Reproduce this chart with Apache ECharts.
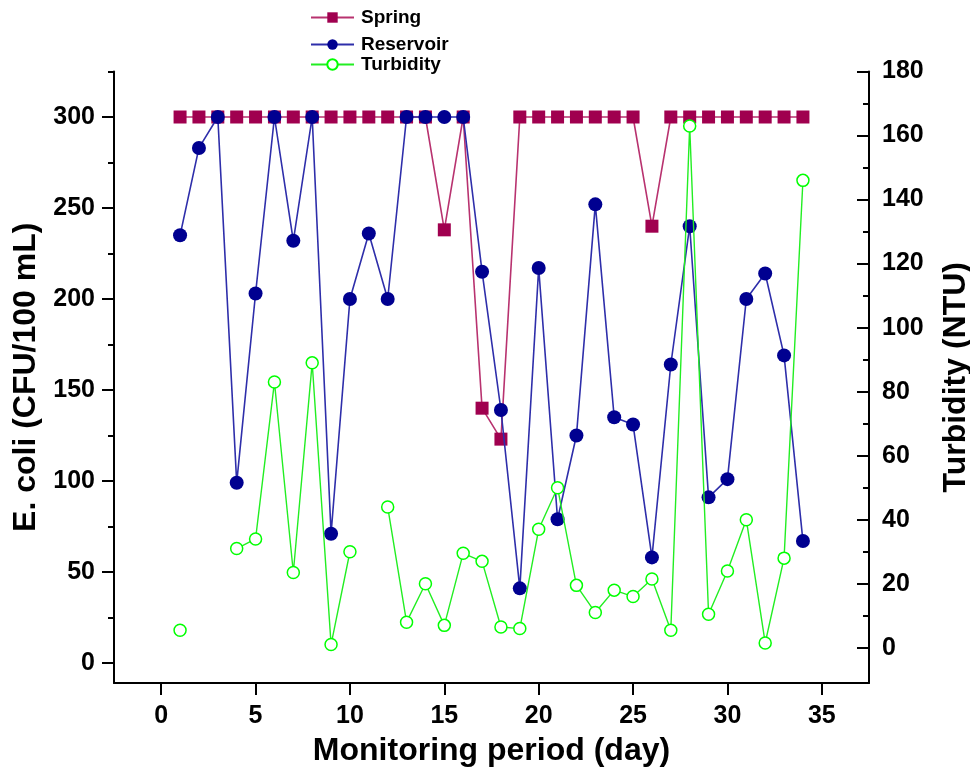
<!DOCTYPE html>
<html>
<head>
<meta charset="utf-8">
<title>E. coli and turbidity over the monitoring period</title>
<script src="https://cdn.jsdelivr.net/npm/echarts@6/dist/echarts.min.js"></script>
<style>
  html, body { margin: 0; padding: 0; background: #fff; }
  #chart { width: 970px; height: 771px; }
</style>
</head>
<body>
<div id="chart"></div>
<script>
// Monitoring days
const days = [1,2,3,4,5,6,7,8,9,10,11,12,13,14,15,16,17,18,19,20,21,22,23,24,25,26,27,28,29,30,31,32,33,34];

// E. coli, CFU/100 mL (300 = upper counting limit)
const spring = [300,300,300,300,300,300,300,300,300,300,300,300,300,300,238,300,140,123,300,300,300,300,300,300,300,240,300,300,300,300,300,300,300,300];
const reservoir = [235,283,300,99,203,300,232,300,71,200,236,200,300,300,300,300,215,139,41,217,79,125,252,135,131,58,164,240,91,101,200,214,169,67];

// Turbidity, NTU (null = not measured)
const turbidity = [5.5,null,null,31,34,83,23.5,89,1,30,null,44,8,20,7,29.5,27,6.5,6,37,50,19.5,11,18,16,21.5,5.5,163,10.5,24,40,1.5,28,146];

// Tick labels
const dayTicks = [0,5,10,15,20,25,30,35];
const ecoliTicks = [0,50,100,150,200,250,300];
const ecoliMinor = [25,75,125,175,225,275,325];
const turbTicks = [0,20,40,60,80,100,120,140,160,180];
const turbMinor = [10,30,50,70,90,110,130,150,170];

const FONT = "'Liberation Sans', Arial, sans-serif";
const pair = (vals) => days.map((d, i) => [d, vals[i]]);

const chart = echarts.init(document.getElementById('chart'), null, { renderer: 'canvas' });

const axisLine = { show: true, onZero: false, lineStyle: { color: '#000', width: 2 } };
const noLine = { show: false, onZero: false };
const tickLabel = { fontFamily: FONT, fontWeight: 'bold', fontSize: 25, color: '#000' };
const titleText = { fontFamily: FONT, fontWeight: 'bold', fontSize: 32, color: '#000' };

const E_MIN = -11, E_MAX = 325;
const T_MIN = -11, T_MAX = 180;

chart.setOption({
  animation: false,
  backgroundColor: '#fff',
  grid: { left: 114, right: 101, top: 71.5, bottom: 88, containLabel: false, outerBoundsMode: 'none' },
  legend: [
    { data: ['Spring'], left: 310, top: 8 },
    { data: ['Reservoir'], left: 310, top: 35 },
    { data: ['Turbidity'], left: 310, top: 55 }
  ].map(l => Object.assign({
    orient: 'vertical', itemWidth: 43, itemHeight: 13, itemGap: 0, padding: 0,
    textStyle: { fontFamily: FONT, fontWeight: 'bold', fontSize: 19, color: '#000', padding: [0, 0, 0, 2] }
  }, l)),
  xAxis: {
    type: 'value', min: -2.5, max: 37.5,
    name: 'Monitoring period (day)', nameLocation: 'middle', nameGap: 52,
    nameTextStyle: titleText,
    axisLine: axisLine,
    axisTick: { show: true, inside: false, length: 12, lineStyle: { color: '#000', width: 2 }, customValues: dayTicks },
    axisLabel: Object.assign({ margin: 21, customValues: dayTicks }, tickLabel),
    splitLine: { show: false }
  },
  yAxis: [
    {
      type: 'value', position: 'left', min: E_MIN, max: E_MAX,
      name: 'E. coli (CFU/100 mL)', nameLocation: 'middle', nameGap: 72, nameRotate: 90,
      nameTextStyle: titleText,
      axisLine: axisLine,
      axisTick: { show: true, inside: false, length: 12, lineStyle: { color: '#000', width: 2 }, customValues: ecoliTicks },
      axisLabel: Object.assign({ margin: 19, customValues: ecoliTicks }, tickLabel),
      splitLine: { show: false }
    },
    {
      type: 'value', position: 'right', min: T_MIN, max: T_MAX,
      name: 'Turbidity (NTU)', nameLocation: 'middle', nameGap: 71, nameRotate: 90,
      nameTextStyle: titleText,
      axisLine: axisLine,
      axisTick: { show: true, inside: true, length: 12, lineStyle: { color: '#000', width: 2 }, customValues: turbTicks },
      axisLabel: Object.assign({ margin: 13, customValues: turbTicks }, tickLabel),
      splitLine: { show: false }
    },
    {
      // minor ticks, E. coli axis
      type: 'value', position: 'left', min: E_MIN, max: E_MAX,
      axisLine: noLine,
      axisTick: { show: true, inside: false, length: 6, lineStyle: { color: '#000', width: 2 }, customValues: ecoliMinor },
      axisLabel: { show: false }, splitLine: { show: false }
    },
    {
      // minor ticks, turbidity axis
      type: 'value', position: 'right', min: T_MIN, max: T_MAX,
      axisLine: noLine,
      axisTick: { show: true, inside: true, length: 6, lineStyle: { color: '#000', width: 2 }, customValues: turbMinor },
      axisLabel: { show: false }, splitLine: { show: false }
    }
  ],
  series: [
    {
      name: 'Spring', type: 'line', yAxisIndex: 0, z: 2,
      data: pair(spring),
      symbol: 'rect', symbolSize: 13,
      lineStyle: { color: '#b8326f', width: 1.6 },
      itemStyle: { color: '#a0004f' }
    },
    {
      name: 'Reservoir', type: 'line', yAxisIndex: 0, z: 3,
      data: pair(reservoir),
      symbol: 'circle', symbolSize: 14,
      lineStyle: { color: '#2e2eaa', width: 1.6 },
      itemStyle: { color: '#000090' }
    },
    {
      name: 'Turbidity', type: 'line', yAxisIndex: 1, z: 4,
      data: pair(turbidity),
      symbol: 'circle', symbolSize: 12,
      lineStyle: { color: '#22ee22', width: 1.4 },
      itemStyle: { color: '#ffffff', borderColor: '#00ff00', borderWidth: 1.5 }
    }
  ]
});
</script>
</body>
</html>
